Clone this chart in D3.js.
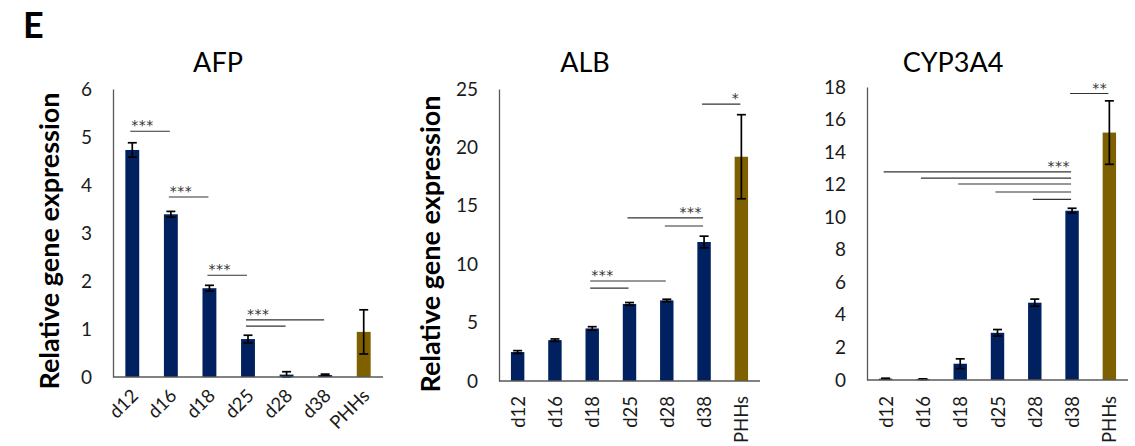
<!DOCTYPE html>
<html>
<head>
<meta charset="utf-8">
<script src="https://cdn.jsdelivr.net/npm/d3@7"></script>
<style>
  html, body { margin: 0; padding: 0; background: #fff; }
  svg { display: block; font-family: Lato, "Open Sans", sans-serif; }
</style>
</head>
<body>
<svg id="fig" width="1135" height="446"></svg>
<script>
// Sample days and the primary human hepatocyte reference
const categories = ["d12", "d16", "d18", "d25", "d28", "d38", "PHHs"];

// AFP relative expression (mean, SD)
const afpMean = [4.73, 3.39, 1.85, 0.79, 0.05, 0.04, 0.94];
const afpErr  = [0.15, 0.06, 0.06, 0.08, 0.06, 0.02, 0.46];
const afpTicks = [0, 1, 2, 3, 4, 5, 6];

// ALB relative expression (mean, SD)
const albMean = [2.48, 3.5, 4.5, 6.6, 6.9, 11.9, 19.2];
const albErr  = [0.12, 0.1, 0.15, 0.12, 0.1, 0.5, 3.6];
const albTicks = [0, 5, 10, 15, 20, 25];

// CYP3A4 relative expression (mean, SD)
const cypMean = [0.08, 0.05, 1.0, 2.9, 4.75, 10.4, 15.2];
const cypErr  = [0.03, 0.02, 0.3, 0.2, 0.22, 0.15, 1.95];
const cypTicks = [0, 2, 4, 6, 8, 10, 12, 14, 16, 18];

// Significance brackets: from/to category, height in data units, stars, star alignment
const afpSig = [
  { from: "d12", to: "d16", y: 5.12, label: "***", align: "start" },
  { from: "d16", to: "d18", y: 3.75, label: "***", align: "start" },
  { from: "d18", to: "d25", y: 2.12, label: "***", align: "start" },
  { from: "d25", to: "d38", y: 1.19, label: "***", align: "start" },
  { from: "d25", to: "d28", y: 1.06, label: "",    align: "start" }
];
const albSig = [
  { from: "d18", to: "d28", y: 8.56,  label: "***", align: "start" },
  { from: "d18", to: "d25", y: 7.96,  label: "",    align: "start" },
  { from: "d25", to: "d38", y: 13.96, label: "***", align: "end" },
  { from: "d28", to: "d38", y: 13.27, label: "",    align: "end" },
  { from: "d38", to: "PHHs", y: 23.7, label: "*",   align: "end" }
];
const cypSig = [
  { from: "d12", to: "d38", y: 12.78, label: "***", align: "end" },
  { from: "d16", to: "d38", y: 12.4,  label: "",    align: "end" },
  { from: "d18", to: "d38", y: 12.04, label: "",    align: "end" },
  { from: "d25", to: "d38", y: 11.55, label: "",    align: "end" },
  { from: "d28", to: "d38", y: 11.1,  label: "",    align: "end" },
  { from: "d38", to: "PHHs", y: 17.6, label: "**",  align: "end" }
];

const NAVY = "#002060";
const GOLD = "#7f6000";
const AXIS = "#595959";

const svg = d3.select("#fig");

// Panel letter
svg.append("text")
  .attr("x", 23).attr("y", 38)
  .attr("font-size", 36).attr("font-weight", 700)
  .attr("fill", "#000")
  .text("E");

const panels = [
  { title: "AFP", mean: afpMean, err: afpErr, ticks: afpTicks, sig: afpSig,
    domainMax: 6, x0: 113, x1: 383, yTop: 89, yBase: 377,
    titleX: 218, labelX: 59, labelY: 241, labelRot: -45, clipLeft: null },
  { title: "ALB", mean: albMean, err: albErr, ticks: albTicks, sig: albSig,
    domainMax: 25, x0: 499, x1: 760, yTop: 89, yBase: 381,
    titleX: 585, labelX: 440, labelY: 244, labelRot: -90, clipLeft: null },
  { title: "CYP3A4", mean: cypMean, err: cypErr, ticks: cypTicks, sig: cypSig,
    domainMax: 18, x0: 867, x1: 1128, yTop: 87, yBase: 380,
    titleX: 953, labelX: 802, labelY: 243, labelRot: -90, clipLeft: 788 }
];

// Clip region for the cropped axis title of the last panel
const defs = svg.append("defs");

panels.forEach((p, pi) => {
  const g = svg.append("g");

  const x = d3.scaleBand()
    .domain(categories)
    .range([p.x0, p.x1])
    .paddingInner(0.64)
    .paddingOuter(0.32);

  const y = d3.scaleLinear()
    .domain([0, p.domainMax])
    .range([p.yBase, p.yTop]);

  const cx = c => x(c) + x.bandwidth() / 2;

  // Title
  g.append("text")
    .attr("x", p.titleX).attr("y", 72)
    .attr("text-anchor", "middle")
    .attr("font-size", 27)
    .attr("fill", "#000")
    .text(p.title);

  // Y axis title
  const lab = g.append("text")
    .attr("transform", `translate(${p.labelX},${p.labelY}) rotate(-90)`)
    .attr("text-anchor", "middle")
    .attr("font-size", 27)
    .attr("font-weight", 700)
    .attr("fill", "#000")
    .text("Relative gene expression");
  if (p.clipLeft !== null) {
    const id = "clip" + pi;
    defs.append("clipPath").attr("id", id)
      .append("rect")
      .attr("x", p.clipLeft).attr("y", 0)
      .attr("width", 200).attr("height", 446);
    lab.attr("clip-path", `url(#${id})`);
  }

  // Y axis (no tick marks)
  const yAxis = g.append("g")
    .attr("transform", `translate(${p.x0},0)`)
    .call(d3.axisLeft(y).tickValues(p.ticks).tickSize(0).tickPadding(21).tickFormat(d3.format("d")));
  yAxis.select(".domain").attr("stroke", AXIS).attr("stroke-width", 1.3);
  yAxis.selectAll(".tick text")
    .attr("font-size", 19)
    .attr("font-family", "Lato, sans-serif")
    .attr("fill", "#1a1a1a");

  // Bars
  g.selectAll("rect.bar")
    .data(categories)
    .join("rect")
    .attr("class", "bar")
    .attr("x", c => x(c))
    .attr("width", x.bandwidth())
    .attr("y", (c, i) => y(p.mean[i]))
    .attr("height", (c, i) => y(0) - y(p.mean[i]))
    .attr("fill", c => c === "PHHs" ? GOLD : NAVY);

  // Error bars
  const cap = 4.5;
  const eb = g.append("g").attr("stroke", "#000").attr("stroke-width", 1.7);
  categories.forEach((c, i) => {
    const hi = y(p.mean[i] + p.err[i]);
    const lo = y(Math.max(0, p.mean[i] - p.err[i]));
    eb.append("line").attr("x1", cx(c)).attr("x2", cx(c)).attr("y1", hi).attr("y2", lo);
    eb.append("line").attr("x1", cx(c) - cap).attr("x2", cx(c) + cap).attr("y1", hi).attr("y2", hi);
    eb.append("line").attr("x1", cx(c) - cap).attr("x2", cx(c) + cap).attr("y1", lo).attr("y2", lo);
  });

  // X axis line
  g.append("line")
    .attr("x1", p.x0).attr("x2", p.x1)
    .attr("y1", y(0)).attr("y2", y(0))
    .attr("stroke", AXIS).attr("stroke-width", 1.3);

  // Category labels
  g.selectAll("text.cat")
    .data(categories)
    .join("text")
    .attr("class", "cat")
    .attr("text-anchor", "end")
    .attr("font-size", 18.5)
    .attr("fill", "#1a1a1a")
    .attr("transform", c => p.labelRot === -45
      ? `translate(${cx(c) + 7},${397}) rotate(-45)`
      : `translate(${cx(c) + 7},${396}) rotate(-90)`)
    .text(c => c);

  // Significance brackets
  const sg = g.append("g");
  p.sig.forEach(s => {
    const xa = cx(s.from) - 2, xb = cx(s.to) - 1;
    const yy = y(s.y);
    sg.append("line")
      .attr("x1", xa).attr("x2", xb).attr("y1", yy).attr("y2", yy)
      .attr("stroke", "#333").attr("stroke-width", 1.2);
    if (s.label) {
      sg.append("text")
        .attr("x", s.align === "start" ? xa + 1 : xb - 1)
        .attr("y", yy - 1)
        .attr("text-anchor", s.align)
        .attr("font-family", "DejaVu Sans, sans-serif")
        .attr("font-size", 14)
        .attr("letter-spacing", 0.5)
        .attr("fill", "#333")
        .text(s.label);
    }
  });
});
</script>
</body>
</html>
